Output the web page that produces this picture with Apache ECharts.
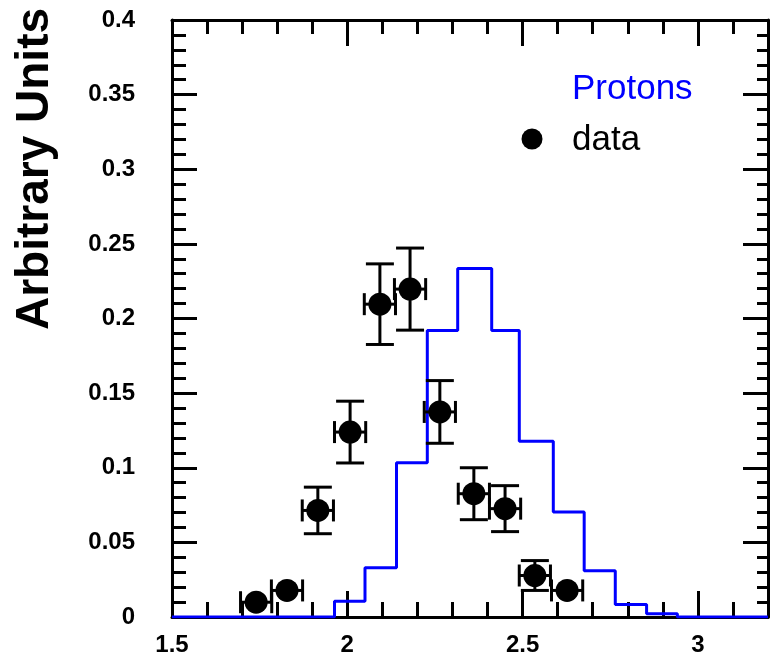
<!DOCTYPE html>
<html><head><meta charset="utf-8">
<script src="https://cdn.jsdelivr.net/npm/echarts@6/dist/echarts.min.js"></script>
<style>html,body{margin:0;padding:0;background:#fff}#c{width:771px;height:662px}</style>
</head><body><div id="c"></div>
<script>
// Data points (black markers with error bars)
const dataX    = [1.740, 1.828, 1.916, 2.008, 2.093, 2.179, 2.264, 2.361, 2.450, 2.535, 2.627];
const dataY    = [0.0099, 0.0178, 0.0714, 0.1239, 0.2096, 0.2197, 0.1374, 0.0826, 0.0726, 0.0278, 0.0178];
const dataXErr = [0.0445, 0.0445, 0.0445, 0.0445, 0.0445, 0.0445, 0.0445, 0.0445, 0.0445, 0.0445, 0.0445];
const dataYErr = [0.005, 0.006, 0.0156, 0.0207, 0.027, 0.0275, 0.021, 0.0174, 0.0154, 0.010, 0.006];
// Protons histogram (bin edges and contents)
const protonEdges  = [1.9635, 2.0505, 2.1403, 2.2282, 2.3149, 2.4119, 2.4906, 2.5876, 2.6757, 2.7644, 2.8537, 2.9415];
const protonValues = [0.0106, 0.033, 0.1034, 0.192, 0.2335, 0.192, 0.1177, 0.0703, 0.031, 0.0084, 0.0021];
// Axis ranges / ticks
const xMin = 1.5, xMax = 3.2, xMajor = 0.5, xMinor = 0.1;
const yMin = 0, yMax = 0.4, yMajor = 0.05, yMinor = 0.01;

const stepPts = [[xMin, 0], [protonEdges[0], 0]];
for (let i = 0; i < protonValues.length; i++) {
  stepPts.push([protonEdges[i], protonValues[i]]);
  stepPts.push([protonEdges[i + 1], protonValues[i]]);
}
stepPts.push([protonEdges[protonEdges.length - 1], 0]);
stepPts.push([xMax, 0]);

const pts = dataX.map((x, i) => [x, dataY[i], dataXErr[i], dataYErr[i]]);

const FONT = 'Liberation Sans, Arial, Helvetica, sans-serif';
const lineS = {color: '#000', width: 3};
function xAx(pos, interval, len, labels, line) {
  return {
    type: 'value', position: pos, min: xMin, max: xMax, interval: interval,
    axisLine: {show: line, onZero: false, lineStyle: lineS},
    axisTick: {show: true, inside: true, length: len, lineStyle: lineS},
    axisLabel: labels ? {show: true, fontSize: 24, fontWeight: 'bold', color: '#000', fontFamily: FONT, margin: 16, showMaxLabel: false} : {show: false},
    splitLine: {show: false}
  };
}
function yAx(pos, interval, len, labels, line) {
  return {
    type: 'value', position: pos, min: yMin, max: yMax, interval: interval,
    axisLine: {show: line, onZero: false, lineStyle: lineS},
    axisTick: {show: true, inside: true, length: len, lineStyle: lineS},
    axisLabel: labels ? {show: true, fontSize: 24, fontWeight: 'bold', color: '#000', fontFamily: FONT, margin: 37} : {show: false},
    splitLine: {show: false}
  };
}

const chart = echarts.init(document.getElementById('c'), null, {renderer: 'canvas'});
chart.setOption({
  animation: false,
  backgroundColor: '#fff',
  grid: {left: 172, right: 3, top: 20, bottom: 45, containLabel: false},
  xAxis: [
    xAx('bottom', xMajor, 26, true, true),
    xAx('bottom', xMinor, 15, false, false),
    xAx('top', xMajor, 26, false, true),
    xAx('top', xMinor, 14, false, false)
  ],
  yAxis: [
    yAx('left', yMajor, 25, true, true),
    yAx('left', yMinor, 14, false, false),
    yAx('right', yMajor, 25, false, true),
    yAx('right', yMinor, 11, false, false)
  ],
  graphic: [
    {type: 'text', x: 35, y: 169, rotation: Math.PI / 2,
     style: {text: 'Arbitrary Units', font: 'bold 46px ' + FONT, fill: '#000', align: 'center', verticalAlign: 'middle'}},
    {type: 'text', x: 572, y: 89,
     style: {text: 'Protons', font: '35px ' + FONT, fill: '#0000ff', align: 'left', verticalAlign: 'middle'}},
    {type: 'circle', shape: {cx: 532, cy: 139, r: 10.5}, style: {fill: '#000'}},
    {type: 'text', x: 572, y: 140,
     style: {text: 'data', font: '35px ' + FONT, fill: '#000', align: 'left', verticalAlign: 'middle'}}
  ],
  series: [
    {
      name: 'Protons', type: 'line', xAxisIndex: 0, yAxisIndex: 0,
      data: stepPts, showSymbol: false, symbol: 'none',
      lineStyle: {color: '#0000ff', width: 3}, z: 2
    },
    {
      name: 'errors', type: 'custom', xAxisIndex: 0, yAxisIndex: 0, data: pts, z: 3,
      renderItem: function (params, api) {
        const x = api.value(0), y = api.value(1), ex = api.value(2), ey = api.value(3);
        const c = api.coord([x, y]);
        const l = api.coord([x - ex, y]), r = api.coord([x + ex, y]);
        const t = api.coord([x, y + ey]), b = api.coord([x, y - ey]);
        const capW = 14, capH = 11, rad = 11.5;
        const st = {stroke: '#000', lineWidth: 3};
        const ch = [
          {type: 'line', shape: {x1: l[0], y1: c[1], x2: r[0], y2: c[1]}, style: st},
          {type: 'line', shape: {x1: l[0], y1: c[1] - capH, x2: l[0], y2: c[1] + capH}, style: st},
          {type: 'line', shape: {x1: r[0], y1: c[1] - capH, x2: r[0], y2: c[1] + capH}, style: st}
        ];
        if (c[1] - t[1] > rad) {
          ch.push({type: 'line', shape: {x1: c[0], y1: t[1], x2: c[0], y2: b[1]}, style: st});
          ch.push({type: 'line', shape: {x1: c[0] - capW, y1: t[1], x2: c[0] + capW, y2: t[1]}, style: st});
          ch.push({type: 'line', shape: {x1: c[0] - capW, y1: b[1], x2: c[0] + capW, y2: b[1]}, style: st});
        }
        return {type: 'group', children: ch};
      }
    },
    {
      name: 'data', type: 'scatter', xAxisIndex: 0, yAxisIndex: 0,
      data: dataX.map((x, i) => [x, dataY[i]]),
      symbol: 'circle', symbolSize: 23, itemStyle: {color: '#000', opacity: 1}, z: 4
    }
  ]
});
</script>
</body></html>
